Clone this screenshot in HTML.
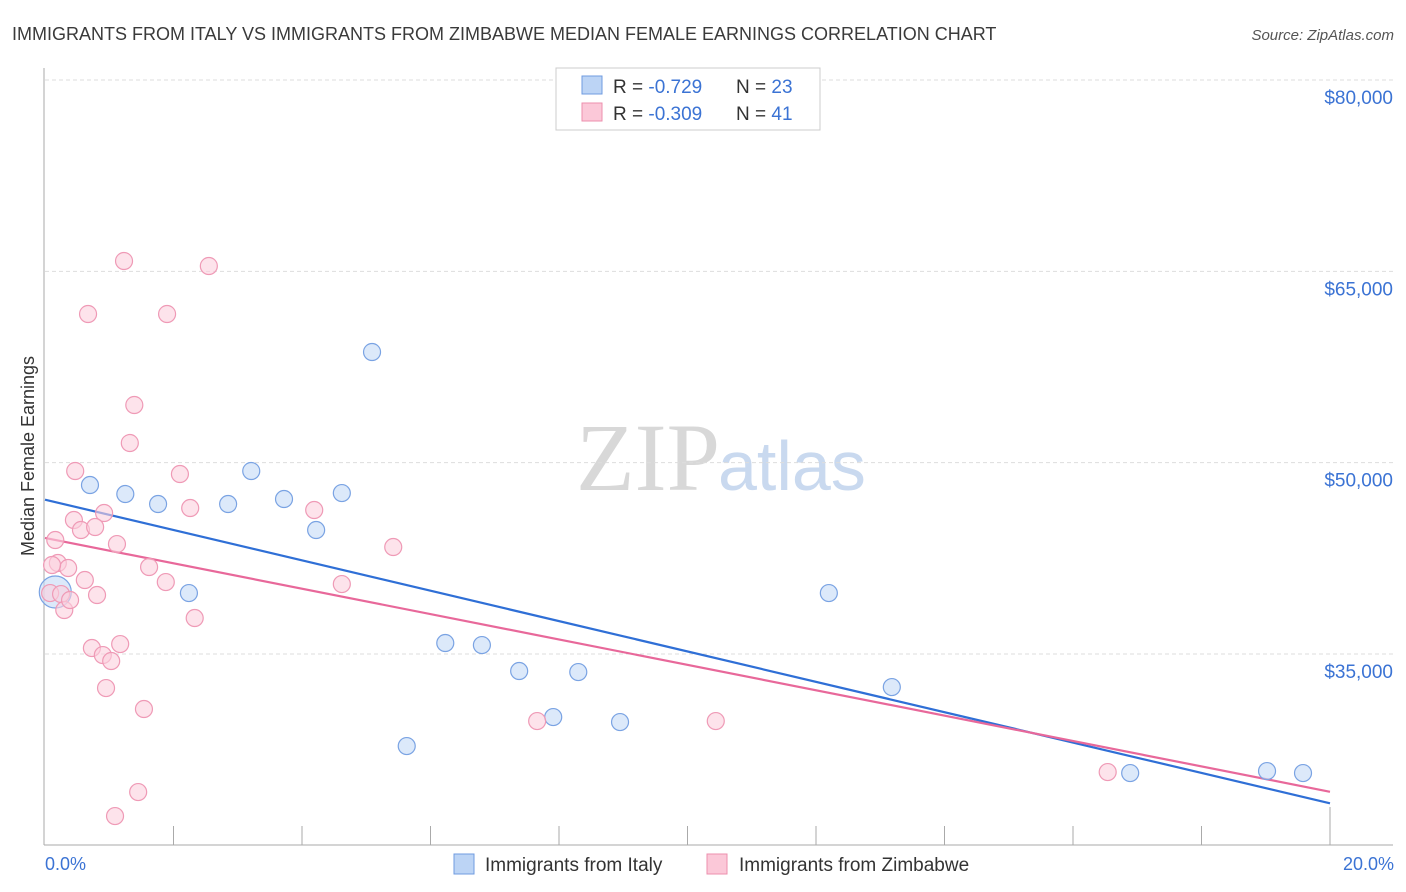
<!DOCTYPE html>
<html><head><meta charset="utf-8"><style>
body{margin:0;background:#fff;font-family:"Liberation Sans",sans-serif;}
#c{position:relative;width:1406px;height:892px;overflow:hidden}
</style></head><body>
<div id="c">
<svg id="s" width="1406" height="892" xmlns="http://www.w3.org/2000/svg">
<text x="12" y="40" font-size="18" fill="#3a3a3a">IMMIGRANTS FROM ITALY VS IMMIGRANTS FROM ZIMBABWE MEDIAN FEMALE EARNINGS CORRELATION CHART</text>
<text x="1394" y="40" font-size="15" fill="#555" font-style="italic" text-anchor="end">Source: ZipAtlas.com</text>
<text x="720" y="490" font-size="96" fill="#d8d8d8" font-family="Liberation Serif,serif" text-anchor="end">ZIP</text>
<text x="718" y="490" font-size="70" fill="#c9d9ef">atlas</text>
<g id="grid"></g><g id="axes"></g><g id="lines"></g><g id="pts"></g>
<text transform="translate(34,456) rotate(-90)" font-size="18" fill="#333" text-anchor="middle">Median Female Earnings</text>
<text x="45" y="870" font-size="18" fill="#3b73d4">0.0%</text>
<text x="1394" y="870" font-size="18" fill="#3b73d4" text-anchor="end">20.0%</text>
<g>
<rect x="556" y="68" width="264" height="62" fill="#fff" stroke="#ccc"/>
<rect x="582" y="76" width="20" height="18" fill="#bcd4f5" stroke="#6f9be0"/>
<rect x="582" y="103" width="20" height="18" fill="#fbc8d8" stroke="#ec8fae"/>
<text x="613" y="93" font-size="19" fill="#333">R = <tspan fill="#3b73d4">-0.729</tspan><tspan x="736">N = </tspan><tspan fill="#3b73d4">23</tspan></text>
<text x="613" y="120" font-size="19" fill="#333">R = <tspan fill="#3b73d4">-0.309</tspan><tspan x="736">N = </tspan><tspan fill="#3b73d4"> 41</tspan></text>
</g>
<g>
<rect x="454" y="854" width="20" height="20" fill="#bcd4f5" stroke="#6f9be0"/>
<text x="485" y="871" font-size="19" fill="#333">Immigrants from Italy</text>
<rect x="707" y="854" width="20" height="20" fill="#fbc8d8" stroke="#ec8fae"/>
<text x="739" y="871" font-size="19" fill="#333">Immigrants from Zimbabwe</text>
</g>
</svg></div>
<script>
const yTicks=[80000,65000,50000,35000];
const yTickLabels=["$80,000","$65,000","$50,000","$35,000"];
const italyX=[0.16,0.70,1.25,1.76,2.24,2.85,3.21,3.72,4.22,4.62,5.09,5.63,6.23,6.80,7.38,7.91,8.30,8.95,12.20,13.18,16.89,19.02,19.58];
const italyY=[39860,48248,47542,46758,39780,46758,49346,47150,44720,47620,58675,27786,35861,35704,33666,30059,33587,29667,39780,32411,25669,25826,25669];
const zimX=[1.23,2.55,0.67,1.90,1.39,1.32,0.47,2.10,0.45,0.92,0.56,0.78,2.26,4.19,0.16,1.12,0.20,0.36,1.62,5.42,0.62,1.88,0.81,0.08,0.25,0.30,2.33,4.62,0.73,1.17,0.90,1.03,0.95,1.54,7.66,10.44,1.45,1.09,16.54,0.11,0.39];
const zimY=[65810,65418,61654,61654,54520,51541,49346,49110,45504,46053,44720,44955,46445,46288,43936,43622,42133,41741,41819,43387,40800,40643,39624,39780,39702,38448,37821,40486,35469,35782,34920,34450,32333,30687,29746,29746,24179,22298,25747,41976,39232];
const italyTrend=[47100,23300];
const zimTrend=[44100,24200];
const NS="http://www.w3.org/2000/svg";
const X=v=>45+v/20*1285, Y=v=>80+(80000-v)*0.012756;
function mk(t,a,p){const e=document.createElementNS(NS,t);for(const k in a)e.setAttribute(k,a[k]);document.getElementById(p).appendChild(e);return e;}
yTicks.forEach((t,i)=>{
 const l=mk('line',{x1:45,x2:1393,y1:Y(t),y2:Y(t),stroke:'#ddd','stroke-dasharray':'4,3'},'grid');
 
 
 const tx=mk('text',{x:1393,y:Y(t)+24,'font-size':19,fill:'#3b73d4','text-anchor':'end'},'grid');
 tx.textContent=yTickLabels[i];
 
 
});
const ax=mk('line',{x1:44,x2:44,y1:68,y2:845,stroke:'#aaa'},'axes');


const bx=mk('line',{x1:44,x2:1393,y1:845,y2:845,stroke:'#aaa'},'axes');


for(let i=1;i<=10;i++){
 const tk=mk('line',{x1:X(i*2),x2:X(i*2),y1:i==10?807:826,y2:845,stroke:'#aaa'},'axes');
 
 
}
function pts(xs,ys,fill,st,name){xs.forEach((x,i)=>{
 const big=(name==='italy-point'&&i===0);
 const c=mk('circle',{cx:X(x),cy:Y(ys[i]),r:big?16:8.5,fill:fill,stroke:st,'stroke-width':1.2,'fill-opacity':0.6},'pts');
 
 
});}
pts(italyX,italyY,'#c5daf6','#7aa3e3','italy-point');
pts(zimX,zimY,'#fbd0de','#ef9ab6','zimbabwe-point');
const l1=mk('line',{x1:X(0),x2:X(20),y1:Y(italyTrend[0]),y2:Y(italyTrend[1]),stroke:'#2f6fd6','stroke-width':2.2},'lines');


const l2=mk('line',{x1:X(0),x2:X(20),y1:Y(zimTrend[0]),y2:Y(zimTrend[1]),stroke:'#e8689a','stroke-width':2.2},'lines');


</script>
</body></html>
